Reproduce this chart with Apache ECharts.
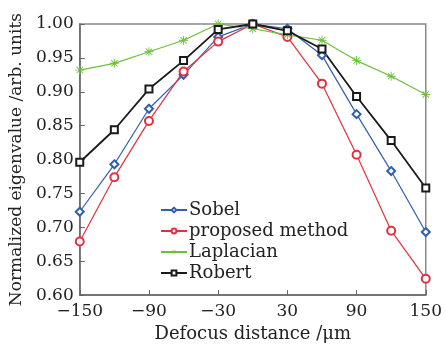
<!DOCTYPE html>
<html><head><meta charset="utf-8">
<script src="https://cdn.jsdelivr.net/npm/echarts@6/dist/echarts.min.js"></script>
<style>html,body{margin:0;padding:0;background:#fff}#c{width:445px;height:348px}</style>
</head><body><div id="c"></div>
<script>
const defocus = [-150,-120,-90,-60,-30,0,30,60,90,120,150];
const sobel = [0.723,0.793,0.875,0.925,0.981,1.000,0.993,0.954,0.867,0.783,0.693];
const proposed = [0.679,0.774,0.857,0.930,0.974,1.000,0.981,0.912,0.807,0.695,0.624];
const laplacian = [0.932,0.942,0.959,0.976,1.000,0.993,0.984,0.976,0.946,0.923,0.896];
const robert = [0.796,0.844,0.904,0.946,0.992,1.000,0.990,0.963,0.893,0.828,0.758];
const seriesNames = ['Sobel','proposed method','Laplacian','Robert'];
const xTitle = 'Defocus distance /\u03bcm';
const yTitle = 'Normalized eigenvalue /arb. units';

const FONT = 'DejaVu Serif';
const star = 'path://M-1,-10L1,-10L1,10L-1,10Z M-10,-1L10,-1L10,1L-10,1Z M-7.8,-6.4L-6.4,-7.8L7.8,6.4L6.4,7.8Z M6.4,-7.8L7.8,-6.4L-6.4,7.8L-7.8,6.4Z';
function pairs(v){ return defocus.map((x,i)=>[x,v[i]]); }
const chart = echarts.init(document.getElementById('c'));
chart.setOption({
  animation:false,
  textStyle:{fontFamily:FONT},
  grid:{left:79,right:16,top:24,bottom:48,show:true,borderColor:'#8a8a8a',borderWidth:1.5},
  legend:{
    orient:'vertical',left:155,top:196,itemGap:3,itemWidth:26,itemHeight:6,
    textStyle:{fontFamily:FONT,fontSize:18,color:'#222',padding:[0,0,0,-3]},
    data:seriesNames
  },
  xAxis:{
    type:'value',min:-150,max:150,interval:60,
    name:xTitle,nameLocation:'middle',nameGap:26,
    nameTextStyle:{fontFamily:FONT,fontSize:18,color:'#222'},
    axisLine:{onZero:false,lineStyle:{color:'#666',width:1.5}},
    axisTick:{inside:true,length:5,lineStyle:{color:'#666'}},
    axisLabel:{fontFamily:FONT,fontSize:17,color:'#222',margin:8,
      formatter:v=>String(v).replace('-','\u2212')},
    splitLine:{show:false}
  },
  yAxis:{
    type:'value',min:0.6,max:1.0,interval:0.05,
    name:yTitle,nameLocation:'middle',nameGap:53,nameRotate:90,
    nameTextStyle:{fontFamily:FONT,fontSize:17,color:'#222'},
    axisLine:{show:true,onZero:false,lineStyle:{color:'#666',width:1.5}},
    axisTick:{show:true,inside:true,length:5,lineStyle:{color:'#666'}},
    axisLabel:{fontFamily:FONT,fontSize:17,color:'#222',margin:6,formatter:v=>v.toFixed(2)},
    splitLine:{show:false}
  },
  series:[
    {name:seriesNames[0],type:'line',data:pairs(sobel),symbol:'emptyDiamond',symbolSize:8,
     lineStyle:{color:'#2f5fae',width:1.2},itemStyle:{color:'#2f5fae',borderWidth:1.2}},
    {name:seriesNames[1],type:'line',data:pairs(proposed),symbol:'emptyCircle',symbolSize:8,
     lineStyle:{color:'#e0323c',width:1.2},itemStyle:{color:'#e0323c',borderWidth:1.2}},
    {name:seriesNames[2],type:'line',data:pairs(laplacian),symbol:star,symbolSize:9,
     lineStyle:{color:'#6cbf3c',width:1.2},itemStyle:{color:'#6cbf3c',borderWidth:0}},
    {name:seriesNames[3],type:'line',data:pairs(robert),symbol:'emptyRect',symbolSize:7,
     lineStyle:{color:'#1a1a1a',width:1.8},itemStyle:{color:'#1a1a1a',borderWidth:1.4}}
  ]
});
</script></body></html>
